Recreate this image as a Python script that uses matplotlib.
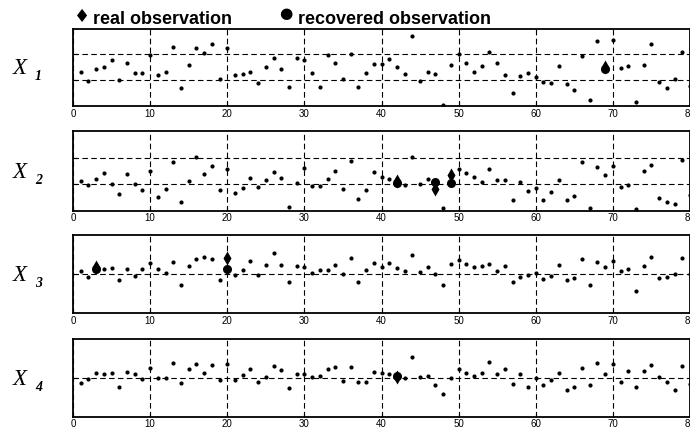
import numpy as np
import matplotlib.pyplot as plt

# time index 1..80
t = np.arange(1, 81)

x1 = [1.32, 0.97, 1.42, 1.53, 1.77, 1.02, 1.68, 1.27, 1.27, 1.99,
      1.19, 1.32, 2.30, 0.71, 1.59, 2.25, 2.07, 2.42, 1.06, 2.26,
      1.19, 1.24, 1.33, 0.89, 1.53, 1.88, 1.42, 0.75, 1.88, 1.77,
      1.27, 0.75, 1.97, 1.68, 1.06, 2.03, 0.75, 1.27, 1.62, 1.62,
      1.82, 1.51, 1.25, 2.70, 0.96, 1.32, 1.23, 0.03, 1.58, 2.03,
      1.67, 1.32, 1.54, 2.10, 1.67, 1.22, 0.49, 1.18, 1.28, 1.13,
      0.94, 0.88, 1.54, 0.84, 0.63, 1.94, 0.23, 2.51, 1.50, 2.57,
      1.47, 1.54, 0.17, 1.58, 2.41, 0.94, 0.70, 1.05, 2.11, 0.78]

x2 = [1.10, 0.98, 1.20, 1.42, 1.00, 0.61, 1.38, 1.00, 0.77, 1.48,
      0.51, 0.80, 1.82, 0.33, 1.13, 2.01, 1.38, 1.69, 0.77, 1.57,
      0.68, 0.87, 1.23, 0.89, 1.17, 1.47, 1.23, 0.15, 1.04, 1.61,
      0.92, 0.92, 1.20, 1.51, 0.83, 1.88, 0.45, 0.78, 1.47, 1.25,
      1.20, 1.12, 0.98, 2.01, 1.00, 1.20, 0.82, 0.10, 1.33, 1.57,
      1.43, 1.25, 1.07, 1.58, 1.15, 1.15, 0.39, 1.07, 0.73, 0.85,
      0.39, 0.69, 1.14, 0.41, 0.54, 1.82, 0.10, 1.63, 1.33, 1.69,
      0.88, 0.95, 0.08, 1.51, 1.72, 0.49, 0.33, 0.25, 1.92, 0.58]

x3 = [1.09, 0.92, 1.17, 1.12, 1.15, 0.86, 1.12, 0.95, 1.12, 1.28,
      1.12, 1.04, 1.30, 0.72, 1.21, 1.39, 1.45, 1.39, 0.86, 1.40,
      0.99, 1.11, 1.33, 0.98, 1.23, 1.55, 1.23, 0.79, 1.22, 1.18,
      1.04, 1.11, 1.11, 1.23, 1.00, 1.40, 0.81, 1.11, 1.28, 1.17,
      1.29, 1.15, 1.08, 1.49, 1.06, 1.18, 1.00, 0.72, 1.26, 1.36,
      1.25, 1.18, 1.21, 1.27, 1.08, 1.21, 0.81, 0.92, 0.98, 1.04,
      0.87, 0.96, 1.23, 0.85, 0.91, 1.39, 0.72, 1.32, 1.17, 1.34,
      1.09, 1.12, 0.58, 1.21, 1.45, 0.89, 0.93, 1.00, 1.40, 1.00]

x4 = [0.88, 0.96, 1.13, 1.09, 1.13, 0.77, 1.16, 1.11, 0.96, 1.26,
      1.00, 1.00, 1.37, 0.88, 1.22, 1.35, 1.13, 1.32, 0.94, 1.36,
      0.94, 1.07, 1.22, 0.90, 1.02, 1.30, 1.20, 0.75, 1.09, 1.09,
      1.02, 1.06, 1.22, 1.28, 0.92, 1.28, 0.90, 0.90, 1.15, 1.13,
      1.11, 1.03, 0.99, 1.54, 1.02, 1.04, 0.81, 0.59, 1.00, 1.22,
      1.13, 1.06, 1.13, 1.41, 1.09, 1.22, 0.83, 1.09, 0.77, 0.99,
      0.81, 0.94, 1.13, 0.70, 0.76, 1.26, 0.81, 1.38, 1.11, 1.36,
      0.89, 1.18, 0.77, 1.18, 1.32, 1.02, 0.89, 0.68, 1.30, 0.83]

# missing positions: time, recovered value (real value is in the series)
miss_t = [[69], [42, 47, 49], [3, 20], [42]]
recovered = [[1.44], [1.06, 1.08, 1.05], [1.12, 1.12], [1.06]]

series = [x1, x2, x3, x4]
ylims = [(0, 3), (0, 3), (0, 2), (0, 2)]
yticks = [[1, 2], [1, 2], [1], [1]]
labels = ['1', '2', '3', '4']

W, H = 690, 432
fig = plt.figure(figsize=(W / 100, H / 100), dpi=100)

# panel top/bottom in pixels
boxes = [(28.7, 106), (131, 210.7), (235, 313.3), (339, 416.7)]
left, right = 73, 690

dash = (0, (5, 3))
for i in range(4):
    top, bot = boxes[i]
    ax = fig.add_axes([left / W, (H - bot) / H, (right - left) / W, (bot - top) / H])
    y = np.array(series[i])
    ax.plot(t, y, 'o', color='k', ms=3, mec='none', zorder=3)
    mt = np.array(miss_t[i])
    ax.plot(mt, recovered[i], 'o', color='k', ms=6.5, mec='none', zorder=4)
    ax.plot(mt, y[mt - 1], 'd', color='k', ms=7, mec='none', zorder=4)

    ax.set_xlim(0, 80)
    ax.set_ylim(*ylims[i])
    ax.set_xticks(np.arange(0, 81, 10))
    ax.set_yticks(yticks[i])
    ax.set_yticklabels([])
    ax.grid(True, color='k', ls=dash, lw=0.8)
    ax.tick_params(direction='in', length=3, labelsize=7, pad=2, width=0.8)
    for lab in ax.get_xticklabels():
        lab.set_family('Liberation Sans')
    for s in ax.spines.values():
        s.set_linewidth(1.3)

    yc = (top + bot) / 2
    fig.text(13 / W, (H - yc - 7) / H, 'X', family='Liberation Serif',
             style='italic', fontsize=16.5, va='baseline', ha='left')
    fig.text(35 / W, (H - yc - 13) / H, labels[i], family='Liberation Serif',
             style='italic', weight='bold', fontsize=10, va='baseline', ha='left')

# legend drawn as text at the top
fig.text(82 / W, (H - 17) / H, '\u2666', family='DejaVu Sans', fontsize=13,
         ha='center', va='center')
fig.text(93 / W, (H - 24) / H, 'real observation', family='Liberation Sans',
         weight='bold', fontsize=13, ha='left', va='baseline')
fig.text(286 / W, (H - 14) / H, '\u25cf', family='DejaVu Sans', fontsize=11,
         ha='center', va='center')
fig.text(298 / W, (H - 24) / H, 'recovered observation', family='Liberation Sans',
         weight='bold', fontsize=13, ha='left', va='baseline')

fig.savefig('out.png', dpi=100)
